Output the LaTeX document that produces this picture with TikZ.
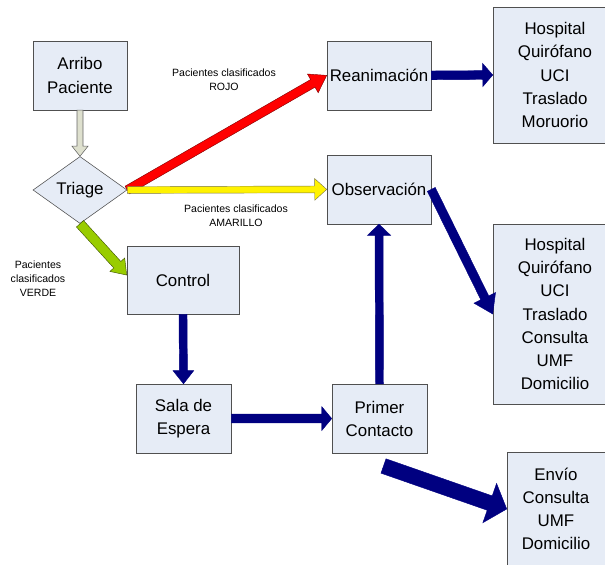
\documentclass[tikz,border=0pt]{standalone}
\usepackage{fontspec}
\setmainfont{Liberation Sans}
\usepackage{tikz}
\usetikzlibrary{shapes.geometric,calc}

\definecolor{boxfill}{RGB}{230,236,246}
\definecolor{boxline}{RGB}{80,80,80}
\definecolor{navy}{RGB}{0,0,128}
\definecolor{verde}{RGB}{153,204,0}
\definecolor{gris}{RGB}{222,224,206}

\tikzset{
	box/.style={draw=boxline, fill=boxfill, align=center, inner sep=2pt,
		font=\fontsize{12}{16.5}\selectfont},
	lbl/.style={align=center, font=\fontsize{7.5}{10}\selectfont},
	navyarrow/.style={fill=navy, draw=navy, line width=0.3pt},
}

% block arrow: from, to, half shaft, half head, head length, style
\newcommand{\blockarrow}[6]{
	\coordinate (hb) at ($(#2)!#5!(#1)$);
	\filldraw[#6] ($(#1)!#3!90:(#2)$) -- ($(hb)!#3!90:(#2)$) -- ($(hb)!#4!90:(#2)$)
		-- (#2) -- ($(hb)!#4!-90:(#2)$) -- ($(hb)!#3!-90:(#2)$) -- ($(#1)!#3!-90:(#2)$) -- cycle;
}

\begin{document}
\begin{tikzpicture}
	\useasboundingbox (0,0) rectangle (15.125,14.125);
	% Nodes
	\node[box, minimum width=2.35cm, minimum height=1.725cm] (arribo) at (2.0,12.24) {Arribo\\Paciente};
	\node[box, shape=diamond, inner sep=0pt, minimum width=2.35cm, minimum height=1.675cm] (triage) at (2.0,9.375) {Triage};
	\node[box, minimum width=2.6cm, minimum height=1.725cm] (reanim) at (9.475,12.24) {Reanimación};
	\node[box, minimum width=2.6cm, minimum height=1.725cm] (observ) at (9.475,9.39) {Observación};
	\node[box, minimum width=2.8cm, minimum height=1.7cm] (control) at (4.575,7.125) {Control};
	\node[box, minimum width=2.375cm, minimum height=1.725cm] (sala) at (4.5875,3.66) {Sala de\\Espera};
	\node[box, minimum width=2.375cm, minimum height=1.725cm] (primer) at (9.4875,3.66) {Primer\\Contacto};
	\node[box, minimum width=3.1cm, minimum height=3.4cm] (hosp1) at (13.875,12.25)
		{Hospital\\Quirófano\\UCI\\Traslado\\Moruorio};
	\node[box, minimum width=3.1cm, minimum height=4.5cm] (hosp2) at (13.875,6.275)
		{Hospital\\Quirófano\\UCI\\Traslado\\Consulta\\UMF\\Domicilio};
	\node[box, minimum width=2.45cm, minimum height=2.85cm] (envio) at (13.9,1.4)
		{Envío\\Consulta\\UMF\\Domicilio};
	\coordinate (salida) at (9.5875,2.475);
	% Labels
	\node[lbl] (rojo) at (5.6,12.125) {Pacientes clasificados\\ROJO};
	\node[lbl] (amarillo) at (5.9,8.725) {Pacientes clasificados\\AMARILLO};
	\node[lbl] (verde) at (0.95,7.15) {Pacientes\\clasificados\\VERDE};
	% Edges
	\blockarrow{arribo.south}{triage.north}{0.075cm}{0.2cm}{0.25cm}{fill=gris, draw=gray!80!black, line width=0.4pt}
	\blockarrow{triage.east}{reanim.west}{0.11cm}{0.27cm}{0.4cm}{fill=red, draw=red!50!black, line width=0.3pt}
	\blockarrow{triage.east}{observ.west}{0.085cm}{0.27cm}{0.3cm}{fill=yellow, draw=yellow!40!black, line width=0.3pt}
	\blockarrow{triage.south}{control.175}{0.12cm}{0.25cm}{0.35cm}{fill=verde, draw=verde!40!black, line width=0.3pt}
	\blockarrow{reanim.east}{hosp1.west}{0.11cm}{0.29cm}{0.25cm}{navyarrow}
	\blockarrow{observ.east}{hosp2.west}{0.11cm}{0.3cm}{0.45cm}{navyarrow}
	\blockarrow{control.south}{sala.north}{0.1cm}{0.26cm}{0.33cm}{navyarrow}
	\blockarrow{sala.east}{primer.west}{0.11cm}{0.3cm}{0.25cm}{navyarrow}
	\blockarrow{primer.north}{observ.south}{0.1cm}{0.29cm}{0.28cm}{navyarrow}
	\blockarrow{salida}{envio.west}{0.19cm}{0.52cm}{0.45cm}{navyarrow}
\end{tikzpicture}
\end{document}
